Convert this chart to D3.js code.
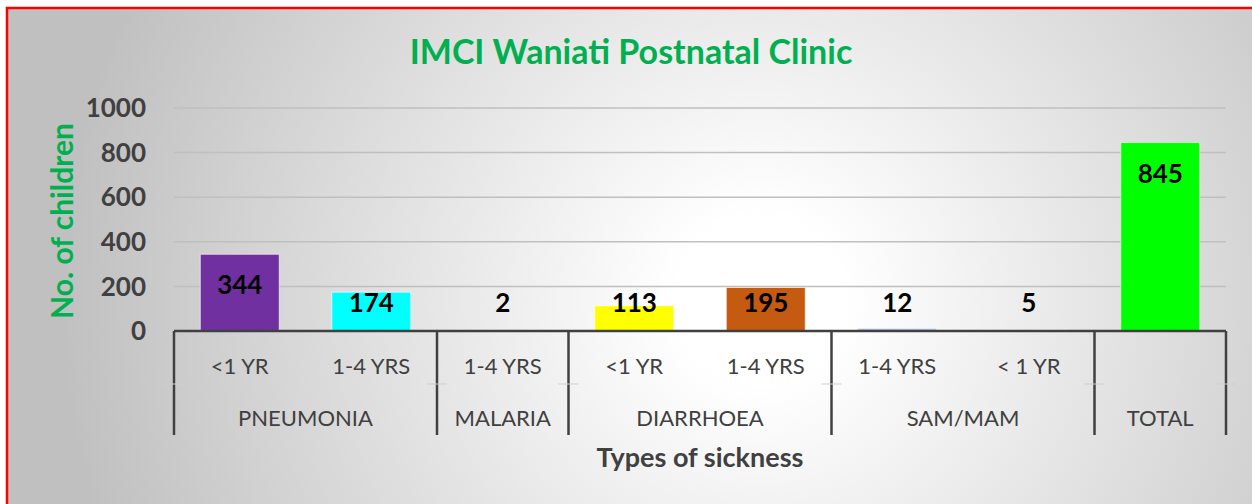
<!DOCTYPE html>
<html>
<head>
<meta charset="utf-8">
<script src="https://cdn.jsdelivr.net/npm/d3@7"></script>
<style>
  body { margin: 0; background: #fff; }
  svg { display: block; }
</style>
</head>
<body>
<div id="chart"></div>
<script>
// chart data
const groups = ["PNEUMONIA", "PNEUMONIA", "MALARIA", "DIARRHOEA", "DIARRHOEA", "SAM/MAM", "SAM/MAM", "TOTAL"];
const subLabels = ["<1 YR", "1-4 YRS", "1-4 YRS", "<1 YR", "1-4 YRS", "1-4 YRS", "< 1 YR", ""];
const values = [344, 174, 2, 113, 195, 12, 5, 845];
const barColors = ["#7030a0", "#00ffff", "#f4b183", "#ffff00", "#c55a11", "#b4c7e7", "#a9d18e", "#00ff00"];
const yTicks = [0, 200, 400, 600, 800, 1000];

const width = 1252, height = 504;
const font = "Lato, 'Open Sans', sans-serif";
const plot = { left: 174, right: 1226, top: 108, bottom: 331 };

const svg = d3.select("#chart").append("svg")
  .attr("width", width)
  .attr("height", height);

const defs = svg.append("defs");
const grad = defs.append("radialGradient")
  .attr("id", "bg")
  .attr("gradientUnits", "userSpaceOnUse")
  .attr("cx", 760).attr("cy", 300).attr("r", 700);
grad.append("stop").attr("offset", "0.12").attr("stop-color", "#ffffff");
grad.append("stop").attr("offset", "1").attr("stop-color", "#c0c0c0");

// chart area with red frame
svg.append("rect")
  .attr("x", 7).attr("y", 8)
  .attr("width", 1270).attr("height", 520)
  .attr("fill", "url(#bg)")
  .attr("stroke", "#ff0000")
  .attr("stroke-width", 2.5);

const x = d3.scaleBand()
  .domain(d3.range(values.length))
  .range([plot.left, plot.right])
  .paddingInner(0.4)
  .paddingOuter(0.2);

const y = d3.scaleLinear()
  .domain([0, 1000])
  .range([plot.bottom, plot.top]);

// gridlines
svg.append("g")
  .selectAll("line")
  .data(yTicks.filter(d => d > 0))
  .join("line")
  .attr("x1", plot.left).attr("x2", plot.right)
  .attr("y1", d => y(d)).attr("y2", d => y(d))
  .attr("stroke", "#bfbfbf")
  .attr("stroke-width", 1.5);

// y tick labels
svg.append("g")
  .selectAll("text")
  .data(yTicks)
  .join("text")
  .attr("x", 146)
  .attr("y", d => y(d))
  .attr("dy", "0.35em")
  .attr("text-anchor", "end")
  .attr("font-family", font)
  .attr("font-weight", "bold")
  .attr("font-size", 26)
  .attr("fill", "#404040")
  .text(d => d);

// bars
svg.append("g")
  .selectAll("rect")
  .data(values)
  .join("rect")
  .attr("x", (d, i) => x(i))
  .attr("y", d => y(d))
  .attr("width", x.bandwidth())
  .attr("height", d => y(0) - y(d))
  .attr("fill", (d, i) => barColors[i])
  .attr("stroke", "rgba(255,255,255,0.6)")
  .attr("stroke-width", 1);

// value labels (inside end, kept above the axis)
svg.append("g")
  .selectAll("text")
  .data(values)
  .join("text")
  .attr("x", (d, i) => x(i) + x.bandwidth() / 2)
  .attr("y", d => Math.min(y(d) + 31, 303))
  .attr("dy", "0.35em")
  .attr("text-anchor", "middle")
  .attr("font-family", font)
  .attr("font-weight", "bold")
  .attr("font-size", 26)
  .attr("fill", "#000")
  .text(d => d);

// category axis (two levels)
const axisG = svg.append("g");
const step = x.step();
const catLeft = i => plot.left + i * step;

axisG.append("line")
  .attr("x1", plot.left).attr("x2", plot.right)
  .attr("y1", plot.bottom).attr("y2", plot.bottom)
  .attr("stroke", "#404040")
  .attr("stroke-width", 2.5);

// group spans
const spans = [];
groups.forEach((g, i) => {
  const last = spans[spans.length - 1];
  if (last && last.name === g) last.end = i + 1;
  else spans.push({ name: g, start: i, end: i + 1 });
});

const bounds = [0].concat(spans.map(s => s.end));
axisG.selectAll("line.sep")
  .data(bounds)
  .join("line")
  .attr("class", "sep")
  .attr("x1", d => catLeft(d)).attr("x2", d => catLeft(d))
  .attr("y1", plot.bottom).attr("y2", 435)
  .attr("stroke", "#404040")
  .attr("stroke-width", 2.5);

// faint ticks between the two label rows
axisG.selectAll("line.mid")
  .data(bounds)
  .join("line")
  .attr("class", "mid")
  .attr("x1", d => catLeft(d) - 10).attr("x2", d => catLeft(d) + 10)
  .attr("y1", 384).attr("y2", 384)
  .attr("stroke", "#cfcfcf")
  .attr("stroke-width", 1);

axisG.selectAll("text.sub")
  .data(subLabels)
  .join("text")
  .attr("class", "sub")
  .attr("x", (d, i) => x(i) + x.bandwidth() / 2)
  .attr("y", 366)
  .attr("dy", "0.35em")
  .attr("text-anchor", "middle")
  .attr("font-family", font)
  .attr("font-size", 22)
  .attr("fill", "#404040")
  .text(d => d);

axisG.selectAll("text.grp")
  .data(spans)
  .join("text")
  .attr("class", "grp")
  .attr("x", d => (catLeft(d.start) + catLeft(d.end)) / 2)
  .attr("y", 418)
  .attr("dy", "0.35em")
  .attr("text-anchor", "middle")
  .attr("font-family", font)
  .attr("font-size", 22)
  .attr("fill", "#404040")
  .text(d => d.name);

// titles
svg.append("text")
  .attr("x", 631).attr("y", 52)
  .attr("dy", "0.35em")
  .attr("text-anchor", "middle")
  .attr("font-family", font)
  .attr("font-weight", "bold")
  .attr("font-size", 34)
  .attr("fill", "#00b050")
  .text("IMCI Waniati Postnatal Clinic");

svg.append("text")
  .attr("transform", "translate(62,221) rotate(-90)")
  .attr("dy", "0.35em")
  .attr("text-anchor", "middle")
  .attr("font-family", font)
  .attr("font-weight", "bold")
  .attr("font-size", 30)
  .attr("fill", "#00b050")
  .text("No. of children");

svg.append("text")
  .attr("x", 700).attr("y", 458)
  .attr("dy", "0.35em")
  .attr("text-anchor", "middle")
  .attr("font-family", font)
  .attr("font-weight", "bold")
  .attr("font-size", 27)
  .attr("fill", "#404040")
  .text("Types of sickness");
</script>
</body>
</html>
